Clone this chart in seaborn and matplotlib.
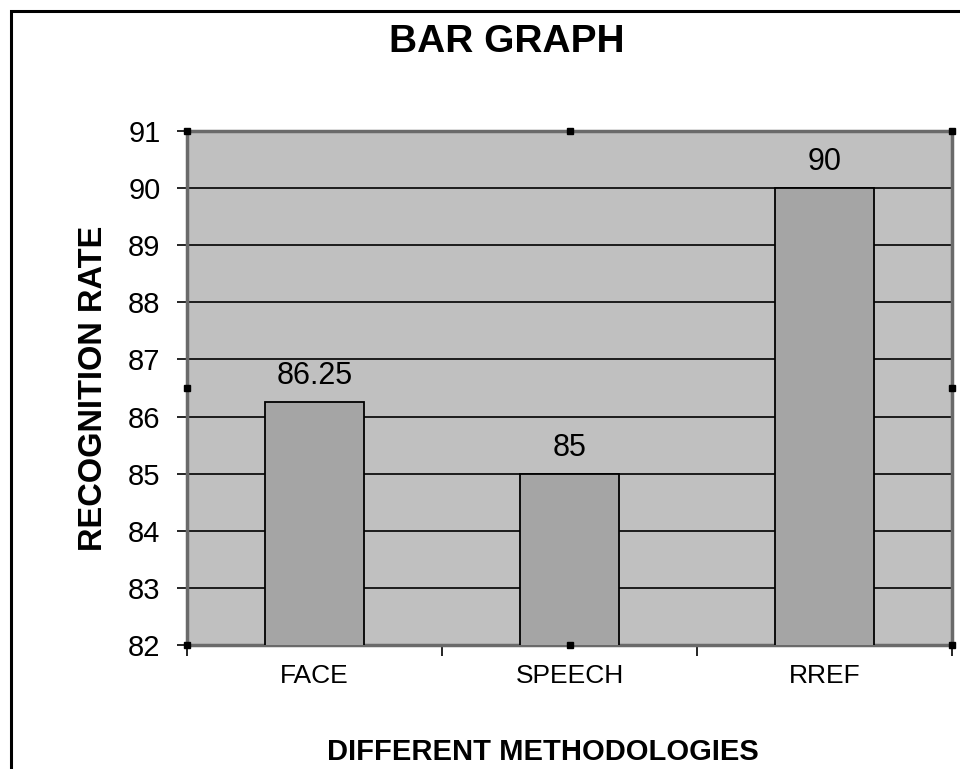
import matplotlib
matplotlib.use("Agg")
import matplotlib.pyplot as plt
import matplotlib.patches as mpatches
from matplotlib.ticker import FixedLocator, NullFormatter
import seaborn as sns
import pandas as pd

# Recognition rate per methodology
methods = ["FACE", "SPEECH", "RREF"]
rates = [86.25, 85, 90]
rate_labels = ["86.25", "85", "90"]
y_ticks = [82, 83, 84, 85, 86, 87, 88, 89, 90, 91]

df = pd.DataFrame({"method": methods, "rate": rates})

sns.set_theme(style="white")
plt.rcParams["font.family"] = ["Liberation Sans", "DejaVu Sans"]

fig = plt.figure(figsize=(9.6, 7.69), dpi=100)
fig.patch.set_facecolor("white")
ax = fig.add_axes([187 / 960, 1 - 645 / 769, 765 / 960, 514 / 769])
ax.set_facecolor("#C0C0C0")

sns.barplot(data=df, x="method", y="rate", ax=ax, color="#A5A5A5",
            width=0.39, edgecolor="black", linewidth=1.3, saturation=1,
            zorder=3)

ax.set_ylim(82, 91)
ax.set_xlim(-0.5, 2.5)
ax.set_yticks(y_ticks)
ax.set_yticklabels([str(t) for t in y_ticks])

# horizontal grid lines
ax.set_axisbelow(True)
ax.yaxis.grid(True, color="black", linewidth=1.2)
ax.xaxis.grid(False)

# category boundary tick marks on the x axis
ax.xaxis.set_minor_locator(FixedLocator([-0.5, 0.5, 1.5, 2.5]))
ax.xaxis.set_minor_formatter(NullFormatter())
ax.tick_params(axis="x", which="major", length=0, pad=14, labelsize=19,
               colors="black")
ax.tick_params(axis="x", which="minor", length=8, width=1.2,
               color="black", direction="out", bottom=True)
ax.tick_params(axis="y", which="major", length=7, width=1.2, pad=12,
               labelsize=21, color="black", direction="out", left=True,
               labelcolor="black")

# dotted plot-area frame
for side in ["left", "right", "top", "bottom"]:
    sp = ax.spines[side]
    sp.set_visible(True)
    sp.set_color("#6a6a6a")
    sp.set_linewidth(2.5)
    sp.set_linestyle((0, (1, 1)))

# value labels on top of the bars
for container in ax.containers:
    ax.bar_label(container, labels=rate_labels, padding=8, fontsize=22,
                 color="black")

ax.set_xlabel("DIFFERENT METHODOLOGIES", fontsize=21, fontweight="bold",
              color="black")
ax.xaxis.set_label_coords(0.465, -0.181)
ax.set_ylabel("RECOGNITION RATE", fontsize=23.5, fontweight="bold",
              labelpad=14, color="black")

# selection handles around the plot area
handles_x = [0, 0.5, 1, 0, 1, 0, 0.5, 1]
handles_y = [1, 1, 1, 0.5, 0.5, 0, 0, 0]
ax.plot(handles_x, handles_y, linestyle="none", marker="s", markersize=4,
        color="black", transform=ax.transAxes, clip_on=False, zorder=6)

fig.text(507 / 960, 1 - 42 / 769, "BAR GRAPH", fontsize=28,
         fontweight="bold", ha="center", va="center", color="black")

# outer chart border (left and top edges)
border = mpatches.Rectangle((11 / 960, -0.1), 1.2, 1.1 - 11 / 769,
                            transform=fig.transFigure, fill=False,
                            edgecolor="black", linewidth=2.2, zorder=10)
fig.patches.append(border)

fig.savefig("out.png", dpi=100, facecolor="white")
